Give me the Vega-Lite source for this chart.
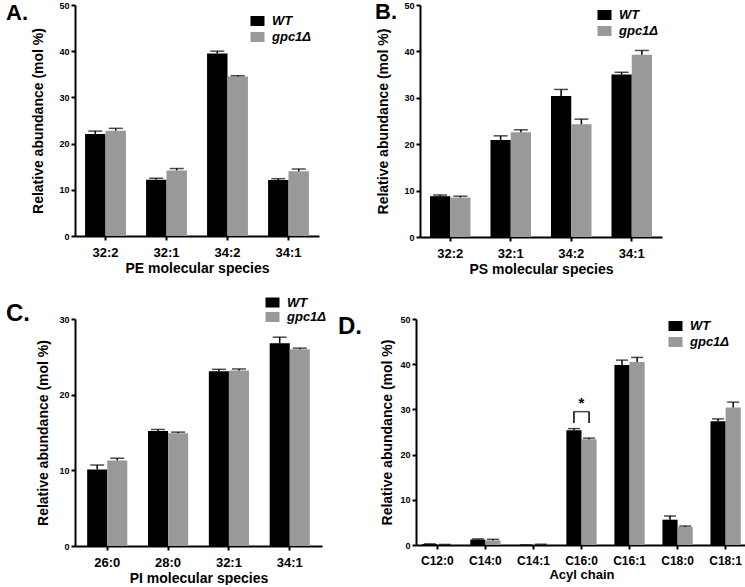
{
  "$schema": "https://vega.github.io/schema/vega-lite/v6.json",
  "background": "white",
  "padding": {"left": 5, "top": 1, "right": 0, "bottom": 0},
  "datasets": {
    "pe": [
      {"species": "32:2", "genotype": "WT", "mean": 22.1, "upper": 22.7},
      {"species": "32:2", "genotype": "gpc1Δ", "mean": 22.8, "upper": 23.3},
      {"species": "32:1", "genotype": "WT", "mean": 12.2, "upper": 12.5},
      {"species": "32:1", "genotype": "gpc1Δ", "mean": 14.2, "upper": 14.6},
      {"species": "34:2", "genotype": "WT", "mean": 39.5, "upper": 40.0},
      {"species": "34:2", "genotype": "gpc1Δ", "mean": 34.5, "upper": 34.7},
      {"species": "34:1", "genotype": "WT", "mean": 12.1, "upper": 12.4},
      {"species": "34:1", "genotype": "gpc1Δ", "mean": 14.0, "upper": 14.5}
    ],
    "ps": [
      {"species": "32:2", "genotype": "WT", "mean": 8.8, "upper": 9.05},
      {"species": "32:2", "genotype": "gpc1Δ", "mean": 8.5, "upper": 8.8},
      {"species": "32:1", "genotype": "WT", "mean": 20.9, "upper": 21.8},
      {"species": "32:1", "genotype": "gpc1Δ", "mean": 22.6, "upper": 23.1},
      {"species": "34:2", "genotype": "WT", "mean": 30.4, "upper": 31.8},
      {"species": "34:2", "genotype": "gpc1Δ", "mean": 24.3, "upper": 25.4},
      {"species": "34:1", "genotype": "WT", "mean": 35.0, "upper": 35.5},
      {"species": "34:1", "genotype": "gpc1Δ", "mean": 39.3, "upper": 40.2}
    ],
    "pi": [
      {"species": "26:0", "genotype": "WT", "mean": 10.1, "upper": 10.7},
      {"species": "26:0", "genotype": "gpc1Δ", "mean": 11.3, "upper": 11.6},
      {"species": "28:0", "genotype": "WT", "mean": 15.2, "upper": 15.4},
      {"species": "28:0", "genotype": "gpc1Δ", "mean": 14.9, "upper": 15.05},
      {"species": "32:1", "genotype": "WT", "mean": 23.1, "upper": 23.35},
      {"species": "32:1", "genotype": "gpc1Δ", "mean": 23.2, "upper": 23.4},
      {"species": "34:1", "genotype": "WT", "mean": 26.8, "upper": 27.6},
      {"species": "34:1", "genotype": "gpc1Δ", "mean": 26.0, "upper": 26.15}
    ],
    "acyl": [
      {"species": "C12:0", "genotype": "WT", "mean": 0.2, "upper": 0.25},
      {"species": "C12:0", "genotype": "gpc1Δ", "mean": 0.1, "upper": 0.12},
      {"species": "C14:0", "genotype": "WT", "mean": 1.2, "upper": 1.35},
      {"species": "C14:0", "genotype": "gpc1Δ", "mean": 1.0, "upper": 1.25},
      {"species": "C14:1", "genotype": "WT", "mean": 0.0, "upper": 0.02},
      {"species": "C14:1", "genotype": "gpc1Δ", "mean": 0.1, "upper": 0.15},
      {"species": "C16:0", "genotype": "WT", "mean": 25.4, "upper": 25.75},
      {"species": "C16:0", "genotype": "gpc1Δ", "mean": 23.4, "upper": 23.65},
      {"species": "C16:1", "genotype": "WT", "mean": 39.8, "upper": 40.9},
      {"species": "C16:1", "genotype": "gpc1Δ", "mean": 40.5, "upper": 41.5},
      {"species": "C18:0", "genotype": "WT", "mean": 5.6, "upper": 6.4},
      {"species": "C18:0", "genotype": "gpc1Δ", "mean": 4.0, "upper": 4.2},
      {"species": "C18:1", "genotype": "WT", "mean": 27.4, "upper": 27.9},
      {"species": "C18:1", "genotype": "gpc1Δ", "mean": 30.4, "upper": 31.6}
    ],
    "bracketLegs": [
      {"species": "C16:0", "genotype": "WT", "low": 27.0, "high": 29.5},
      {"species": "C16:0", "genotype": "gpc1Δ", "low": 27.0, "high": 29.5}
    ],
    "bracketTop": [
      {"species": "C16:0", "level": 29.5, "star": 31.4, "label": "*"}
    ]
  },
  "bounds": "full",
  "align": "none",
  "columns": 1,
  "spacing": 20,
  "resolve": {"scale": {"color": "independent", "x": "independent", "y": "independent", "xOffset": "independent"}, "legend": {"color": "independent"}},
  "concat": [
    {
      "bounds": "flush",
      "spacing": 101,
      "resolve": {"scale": {"color": "independent", "x": "independent", "y": "independent", "xOffset": "independent"}, "legend": {"color": "independent"}},
      "hconcat": [
        {
          "width": 244, "height": 231,
          "title": {"text": "A.", "orient": "left", "anchor": "end", "angle": 0, "align": "right", "baseline": "top", "frame": "group", "offset": -18, "dy": -2, "fontSize": 22, "fontWeight": "bold", "font": "Liberation Sans", "color": "black"},
          "data": {"name": "pe"},
          "encoding": {
            "x": {"field": "species", "type": "nominal", "sort": ["32:2", "32:1", "34:2", "34:1"], "scale": {"paddingInner": 0.33, "paddingOuter": 0.165}, "axis": {"title": "PE molecular species"}},
            "xOffset": {"field": "genotype", "type": "nominal", "sort": ["WT", "gpc1Δ"]}
          },
          "layer": [
            {"mark": {"type": "bar"},
             "encoding": {
               "y": {"field": "mean", "type": "quantitative", "scale": {"domain": [0, 50], "nice": false}, "axis": {"values": [0, 10, 20, 30, 40, 50], "title": "Relative abundance (mol %)"}},
               "color": {"field": "genotype", "type": "nominal", "sort": ["WT", "gpc1Δ"], "scale": {"domain": ["WT", "gpc1Δ"], "range": ["#000000", "#999999"]}, "legend": {"title": null, "orient": "none", "legendX": 176, "legendY": 9.5}}
             }},
            {"mark": {"type": "rule", "color": "black", "strokeWidth": 1.5},
             "encoding": {"y": {"field": "mean", "type": "quantitative", "scale": {"domain": [0, 50], "nice": false}, "title": "Relative abundance (mol %)"}, "y2": {"field": "upper"}}},
            {"mark": {"type": "tick", "color": "black", "thickness": 1.5, "size": 14},
             "encoding": {"y": {"field": "upper", "type": "quantitative", "scale": {"domain": [0, 50], "nice": false}, "title": "Relative abundance (mol %)"}}}
          ]
        },
        {
          "width": 242, "height": 232,
          "title": {"text": "B.", "orient": "left", "anchor": "end", "angle": 0, "align": "right", "baseline": "top", "frame": "group", "offset": -42, "dy": -2.6, "fontSize": 22, "fontWeight": "bold", "font": "Liberation Sans", "color": "black"},
          "data": {"name": "ps"},
          "encoding": {
            "x": {"field": "species", "type": "nominal", "sort": ["32:2", "32:1", "34:2", "34:1"], "scale": {"paddingInner": 0.33, "paddingOuter": 0.165}, "axis": {"title": "PS molecular species"}},
            "xOffset": {"field": "genotype", "type": "nominal", "sort": ["WT", "gpc1Δ"]}
          },
          "layer": [
            {"mark": {"type": "bar"},
             "encoding": {
               "y": {"field": "mean", "type": "quantitative", "scale": {"domain": [0, 50], "nice": false}, "axis": {"values": [0, 10, 20, 30, 40, 50], "title": "Relative abundance (mol %)"}},
               "color": {"field": "genotype", "type": "nominal", "sort": ["WT", "gpc1Δ"], "scale": {"domain": ["WT", "gpc1Δ"], "range": ["#000000", "#999999"]}, "legend": {"title": null, "orient": "none", "legendX": 178, "legendY": 3.5}}
             }},
            {"mark": {"type": "rule", "color": "black", "strokeWidth": 1.5},
             "encoding": {"y": {"field": "mean", "type": "quantitative", "scale": {"domain": [0, 50], "nice": false}, "title": "Relative abundance (mol %)"}, "y2": {"field": "upper"}}},
            {"mark": {"type": "tick", "color": "black", "thickness": 1.5, "size": 14},
             "encoding": {"y": {"field": "upper", "type": "quantitative", "scale": {"domain": [0, 50], "nice": false}, "title": "Relative abundance (mol %)"}}}
          ]
        }
      ]
    },
    {
      "bounds": "flush",
      "spacing": 94,
      "resolve": {"scale": {"color": "independent", "x": "independent", "y": "independent", "xOffset": "independent"}, "legend": {"color": "independent"}},
      "hconcat": [
        {
          "width": 247, "height": 227,
          "title": {"text": "C.", "orient": "left", "anchor": "end", "angle": 0, "align": "right", "baseline": "top", "frame": "group", "offset": -17, "dy": -16.8, "fontSize": 24, "fontWeight": "bold", "font": "Liberation Sans", "color": "black"},
          "data": {"name": "pi"},
          "encoding": {
            "x": {"field": "species", "type": "nominal", "sort": ["26:0", "28:0", "32:1", "34:1"], "scale": {"paddingInner": 0.34, "paddingOuter": 0.2}, "axis": {"title": "PI molecular species"}},
            "xOffset": {"field": "genotype", "type": "nominal", "sort": ["WT", "gpc1Δ"]}
          },
          "layer": [
            {"mark": {"type": "bar"},
             "encoding": {
               "y": {"field": "mean", "type": "quantitative", "scale": {"domain": [0, 30], "nice": false}, "axis": {"values": [0, 10, 20, 30], "title": "Relative abundance (mol %)", "titlePadding": 8}},
               "color": {"field": "genotype", "type": "nominal", "sort": ["WT", "gpc1Δ"], "scale": {"domain": ["WT", "gpc1Δ"], "range": ["#000000", "#999999"]}, "legend": {"title": null, "orient": "none", "legendX": 191, "legendY": -23, "rowPadding": 0.5}}
             }},
            {"mark": {"type": "rule", "color": "black", "strokeWidth": 1.5},
             "encoding": {"y": {"field": "mean", "type": "quantitative", "scale": {"domain": [0, 30], "nice": false}, "title": "Relative abundance (mol %)"}, "y2": {"field": "upper"}}},
            {"mark": {"type": "tick", "color": "black", "thickness": 1.5, "size": 14},
             "encoding": {"y": {"field": "upper", "type": "quantitative", "scale": {"domain": [0, 30], "nice": false}, "title": "Relative abundance (mol %)"}}}
          ]
        },
        {
          "width": 331, "height": 226,
          "title": {"text": "D.", "orient": "left", "anchor": "end", "angle": 0, "align": "right", "baseline": "top", "frame": "group", "offset": -5, "dy": -3.8, "fontSize": 24, "fontWeight": "bold", "font": "Liberation Sans", "color": "black"},
          "encoding": {
            "x": {"field": "species", "type": "nominal", "sort": ["C12:0", "C14:0", "C14:1", "C16:0", "C16:1", "C18:0", "C18:1"], "scale": {"paddingInner": 0.37, "paddingOuter": 0.13}, "axis": {"title": "Acyl chain", "labelFontSize": 12, "titleFontSize": 13}}
          },
          "layer": [
            {"data": {"name": "acyl"},
             "mark": {"type": "bar"},
             "encoding": {
               "xOffset": {"field": "genotype", "type": "nominal", "sort": ["WT", "gpc1Δ"]},
               "y": {"field": "mean", "type": "quantitative", "scale": {"domain": [0, 50], "nice": false}, "axis": {"values": [0, 10, 20, 30, 40, 50], "title": "Relative abundance (mol %)", "titlePadding": 5}},
               "color": {"field": "genotype", "type": "nominal", "sort": ["WT", "gpc1Δ"], "scale": {"domain": ["WT", "gpc1Δ"], "range": ["#000000", "#999999"]}, "legend": {"title": null, "orient": "none", "legendX": 253, "legendY": 0.5}}
             }},
            {"data": {"name": "acyl"},
             "mark": {"type": "rule", "color": "black", "strokeWidth": 1.5},
             "encoding": {"xOffset": {"field": "genotype", "type": "nominal", "sort": ["WT", "gpc1Δ"]}, "y": {"field": "mean", "type": "quantitative", "scale": {"domain": [0, 50], "nice": false}, "title": "Relative abundance (mol %)"}, "y2": {"field": "upper"}}},
            {"data": {"name": "acyl"},
             "mark": {"type": "tick", "color": "black", "thickness": 1.5, "size": 12},
             "encoding": {"xOffset": {"field": "genotype", "type": "nominal", "sort": ["WT", "gpc1Δ"]}, "y": {"field": "upper", "type": "quantitative", "scale": {"domain": [0, 50], "nice": false}, "title": "Relative abundance (mol %)"}}},
            {"data": {"name": "bracketLegs"},
             "mark": {"type": "rule", "color": "black", "strokeWidth": 1.5},
             "encoding": {"xOffset": {"field": "genotype", "type": "nominal", "sort": ["WT", "gpc1Δ"]}, "y": {"field": "low", "type": "quantitative", "scale": {"domain": [0, 50], "nice": false}, "title": "Relative abundance (mol %)"}, "y2": {"field": "high"}}},
            {"data": {"name": "bracketTop"},
             "mark": {"type": "tick", "color": "black", "thickness": 1.5, "size": 16},
             "encoding": {"y": {"field": "level", "type": "quantitative", "scale": {"domain": [0, 50], "nice": false}, "title": "Relative abundance (mol %)"}}},
            {"data": {"name": "bracketTop"},
             "mark": {"type": "text", "color": "black", "fontSize": 15, "fontWeight": "bold", "font": "Liberation Sans", "baseline": "middle"},
             "encoding": {"y": {"field": "star", "type": "quantitative", "scale": {"domain": [0, 50], "nice": false}, "title": "Relative abundance (mol %)"}, "text": {"field": "label"}}}
          ]
        }
      ]
    }
  ],
  "config": {
    "font": "Liberation Sans",
    "view": {"stroke": null},
    "axis": {"domainColor": "black", "domainWidth": 2, "tickColor": "black", "tickWidth": 2, "tickSize": 4, "labelFont": "Liberation Sans", "labelFontWeight": "bold", "labelColor": "black", "titleFont": "Liberation Sans", "titleFontWeight": "bold", "titleColor": "black", "grid": false},
    "axisY": {"labelFontSize": 9, "titleFontSize": 14, "titlePadding": 13, "labelPadding": 2},
    "axisX": {"labelFontSize": 13, "titleFontSize": 14, "labelAngle": 0, "titlePadding": 2, "labelPadding": 6},
    "legend": {"padding": 0, "symbolType": "M-1.4,-1L1.4,-1L1.4,1L-1.4,1Z", "symbolSize": 100, "symbolStrokeWidth": 0, "symbolOpacity": 1, "labelFont": "Liberation Sans", "labelFontSize": 13, "labelFontWeight": "bold", "labelFontStyle": "italic", "labelColor": "black", "labelOffset": 8, "rowPadding": 2}
  }
}
